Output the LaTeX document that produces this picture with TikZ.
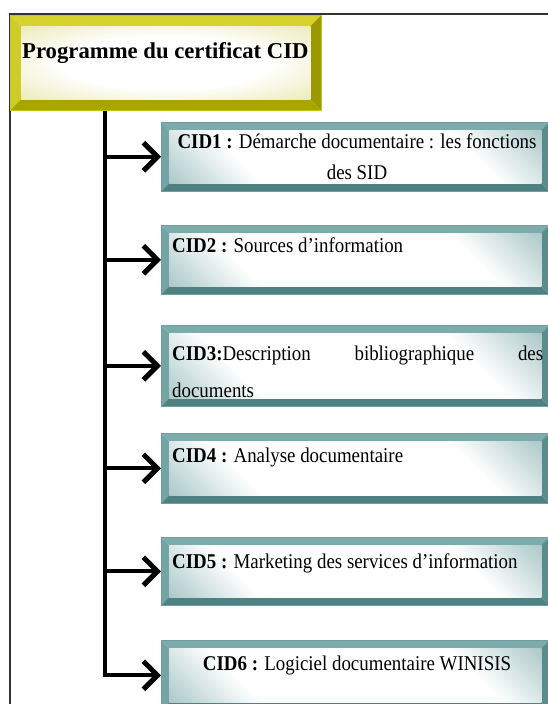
\documentclass[tikz,border=0pt]{standalone}
\usepackage{fontspec}
\setmainfont{Liberation Serif}
\newfontfamily\boxfont[FakeStretch=0.9]{Liberation Serif}
\usetikzlibrary{arrows.meta}
\definecolor{tealA}{HTML}{5E9696}
\definecolor{tealTop}{HTML}{7DAAAA}
\definecolor{tealLeft}{HTML}{74A4A4}
\definecolor{tealBot}{HTML}{4E8282}
\definecolor{tealRight}{HTML}{5A8C8C}
\definecolor{tealEdge}{HTML}{6E9E9E}
\definecolor{yelTop}{HTML}{D6D22E}
\definecolor{yelLeft}{HTML}{CFCB2A}
\definecolor{yelBot}{HTML}{A8A400}
\definecolor{yelRight}{HTML}{9C9800}
\definecolor{yelEdge}{HTML}{C8C420}
\definecolor{yelFace}{HTML}{DCDA80}
\pgfdeclarehorizontalshading{tealdiag}{100bp}{color(0bp)=(tealA); color(30bp)=(white); color(70bp)=(white); color(100bp)=(tealA)}
\pgfdeclareradialshading{yelrad}{\pgfpoint{0bp}{0bp}}{color(0bp)=(white); color(18bp)=(white); color(50bp)=(yelFace)}
\tikzset{
  bevelbox/.style n args={7}{% bevel, top, left, bottom, right, shading options, edge
    rectangle, inner sep=0pt, draw=#7, line width=0.5pt, anchor=north west,
    path picture={
      \coordinate (pNW) at (path picture bounding box.north west);
      \coordinate (pNE) at (path picture bounding box.north east);
      \coordinate (pSW) at (path picture bounding box.south west);
      \coordinate (pSE) at (path picture bounding box.south east);
      \coordinate (iNW) at ([xshift=#1,yshift=-#1]pNW);
      \coordinate (iNE) at ([xshift=-#1,yshift=-#1]pNE);
      \coordinate (iSW) at ([xshift=#1,yshift=#1]pSW);
      \coordinate (iSE) at ([xshift=-#1,yshift=#1]pSE);
      \fill[#2] (pNW) -- (pNE) -- (iNE) -- (iNW) -- cycle;
      \fill[#3] (pNW) -- (iNW) -- (iSW) -- (pSW) -- cycle;
      \fill[#4] (pSW) -- (iSW) -- (iSE) -- (pSE) -- cycle;
      \fill[#5] (pNE) -- (iNE) -- (iSE) -- (pSE) -- cycle;
      \shade[#6] (iNW) rectangle (iSE);
    }},
  tealface/.style={shading=tealdiag, shading angle=45},
  yelface/.style={shading=yelrad},
  tealbox/.style={bevelbox={8pt}{tealTop}{tealLeft}{tealBot}{tealRight}{tealface}{tealEdge}},
  yelbox/.style={bevelbox={11pt}{yelTop}{yelLeft}{yelBot}{yelRight}{yelface}{yelEdge}},
  boxtext/.style={inner sep=0pt, font=\boxfont\fontsize{21}{31}\selectfont},
  frame/.style={draw=black!80, line width=1.2pt},
  arr/.style={line width=4pt, draw=black, -{Straight Barb[length=14pt,width=28pt,line width=5pt]}}
}
\begin{document}
\begin{tikzpicture}[x=1pt,y=-1pt]
\useasboundingbox (0,0) rectangle (547,704);
\fill[white] (0,0) rectangle (547,704);
\draw[frame] (548,14) -- (10,14) -- (10,705);
% title
\node[yelbox, minimum width=311pt, minimum height=95pt] (t) at (10,15) {};
\node[inner sep=0pt, anchor=base west, font=\fontsize{22.7}{27}\selectfont\bfseries] (tt) at (22,58) {Programme du certificat CID};
% boxes
\node[tealbox, minimum width=388pt, minimum height=69pt] (c1) at (161,122) {};
\node[tealbox, minimum width=388pt, minimum height=69pt] (c2) at (161,225) {};
\node[tealbox, minimum width=388pt, minimum height=81pt] (c3) at (161,325) {};
\node[tealbox, minimum width=388pt, minimum height=70pt] (c4) at (161,433) {};
\node[tealbox, minimum width=388pt, minimum height=68pt] (c5) at (161,537) {};
\node[tealbox, minimum width=388pt, minimum height=70pt] (c6) at (161,640) {};
% texts
\node[boxtext, anchor=north, align=center] (x1) at (357,133.5) {\textbf{CID1 :} Démarche documentaire : les fonctions\\des SID};
\node[boxtext, anchor=base west] (x2) at (172,252) {\textbf{CID2 :} Sources d’information};
\node[boxtext, anchor=north west, text width=371pt, align=left, font=\boxfont\fontsize{21}{37}\selectfont] (x3) at (172,345.5) {\textbf{CID3:}Description\hfill bibliographique\hfill des\\documents};
\node[boxtext, anchor=base west] (x4) at (172,462) {\textbf{CID4 :} Analyse documentaire};
\node[boxtext, anchor=base west] (x5) at (172,568) {\textbf{CID5 :} Marketing des services d’information};
\node[boxtext, anchor=base] (x6) at (357,670) {\textbf{CID6 :} Logiciel documentaire WINISIS};
% connectors
\coordinate (T) at (105,0);
\draw[arr, line join=miter] (t.south -| T) |- (c6.west);
\foreach \n in {c1,c2,c3,c4,c5}{
  \draw[arr] (\n.west -| T) -- (\n.west);
}
\end{tikzpicture}
\end{document}
